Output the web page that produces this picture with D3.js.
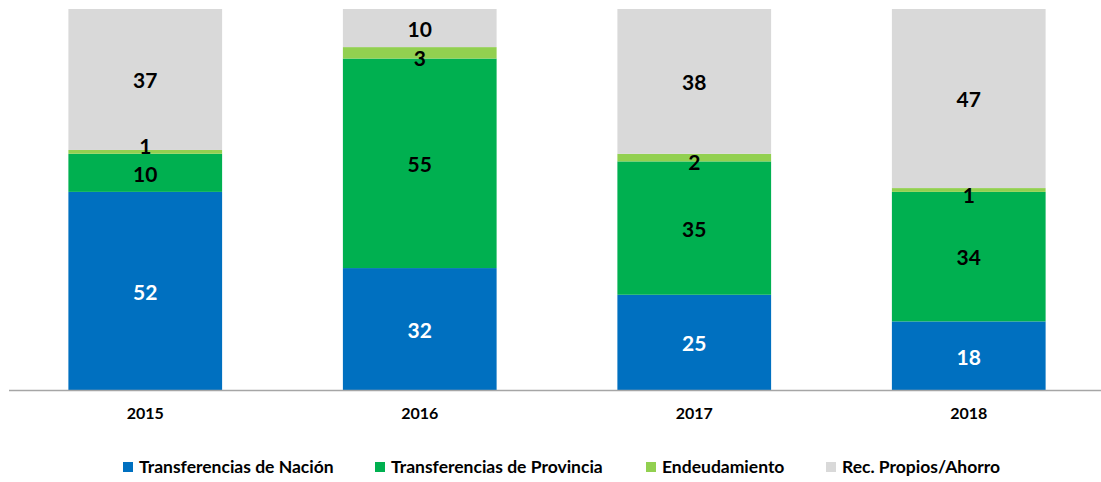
<!DOCTYPE html>
<html>
<head>
<meta charset="utf-8">
<script src="https://cdn.jsdelivr.net/npm/d3@7"></script>
<style>
  html, body { margin: 0; padding: 0; background: #fff; }
  svg { display: block; font-family: Lato, "Open Sans", "Liberation Sans", sans-serif; }
</style>
</head>
<body>
<svg id="chart" width="1101" height="482"></svg>
<script>
const years = ["2015", "2016", "2017", "2018"];
const seriesNames = ["Transferencias de Nación", "Transferencias de Provincia", "Endeudamiento", "Rec. Propios/Ahorro"];
const nacion = [52, 32, 25, 18];
const provincia = [10, 55, 35, 34];
const endeudamiento = [1, 3, 2, 1];
const propios = [37, 10, 38, 47];
const colors = ["#0070C0", "#00B050", "#92D050", "#D9D9D9"];
const labelColors = ["#ffffff", "#000000", "#000000", "#000000"];

const keys = ["nacion", "provincia", "endeudamiento", "propios"];
const table = years.map((y, i) => ({
  year: y, nacion: nacion[i], provincia: provincia[i],
  endeudamiento: endeudamiento[i], propios: propios[i]
}));

const svg = d3.select("#chart");
const x = d3.scaleBand().domain(years).range([8, 1106]).paddingInner(0.44).paddingOuter(0.22);
const y = d3.scaleLinear().domain([0, 100]).range([390, 9]);

const stack = d3.stack().keys(keys);
const layers = stack(table);

const g = svg.append("g");
layers.forEach((layer, li) => {
  g.selectAll(null).data(layer).enter().append("rect")
    .attr("x", d => x(d.data.year))
    .attr("width", x.bandwidth())
    .attr("y", d => y(d[1]))
    .attr("height", d => y(d[0]) - y(d[1]))
    .attr("fill", colors[li]);
});

// axis line
svg.append("line")
  .attr("x1", 9).attr("x2", 1101)
  .attr("y1", y(0) + 0.5).attr("y2", y(0) + 0.5)
  .attr("stroke", "#A6A6A6").attr("stroke-width", 1.5);

// data labels (small segments nudged to avoid overlapping neighbours)
function labelY(d, li, i) {
  const h = y(d[0]) - y(d[1]);
  let cy = (y(d[0]) + y(d[1])) / 2;
  if (h < 15) {
    const below = li > 0 ? y(layers[li - 1][i][0]) - y(layers[li - 1][i][1]) : 999;
    cy += below < 50 ? -7 : 4;
  }
  return cy;
}
layers.forEach((layer, li) => {
  g.selectAll(null).data(layer).enter().append("text")
    .attr("x", d => x(d.data.year) + x.bandwidth() / 2)
    .attr("y", (d, i) => labelY(d, li, i))
    .attr("dy", "0.42em")
    .attr("text-anchor", "middle")
    .attr("font-size", 21)
    .attr("font-weight", "bold")
    .attr("fill", labelColors[li])
    .text(d => d[1] - d[0]);
});

// x axis labels
svg.selectAll(".xl").data(years).enter().append("text")
  .attr("x", d => x(d) + x.bandwidth() / 2)
  .attr("y", 419)
  .attr("text-anchor", "middle")
  .attr("font-size", 16)
  .attr("font-weight", "bold")
  .attr("fill", "#000")
  .text(d => d);

// legend
const legendX = [123, 375, 646, 826];
const lg = svg.selectAll(".lg").data(seriesNames).enter().append("g")
  .attr("transform", (d, i) => `translate(${legendX[i]},462)`);
lg.append("rect").attr("width", 10).attr("height", 10).attr("fill", (d, i) => colors[i]);
lg.append("text").attr("x", 16).attr("y", 11)
  .attr("font-size", 17.5).attr("font-weight", "bold").attr("fill", "#000")
  .text(d => d);
</script>
</body>
</html>
